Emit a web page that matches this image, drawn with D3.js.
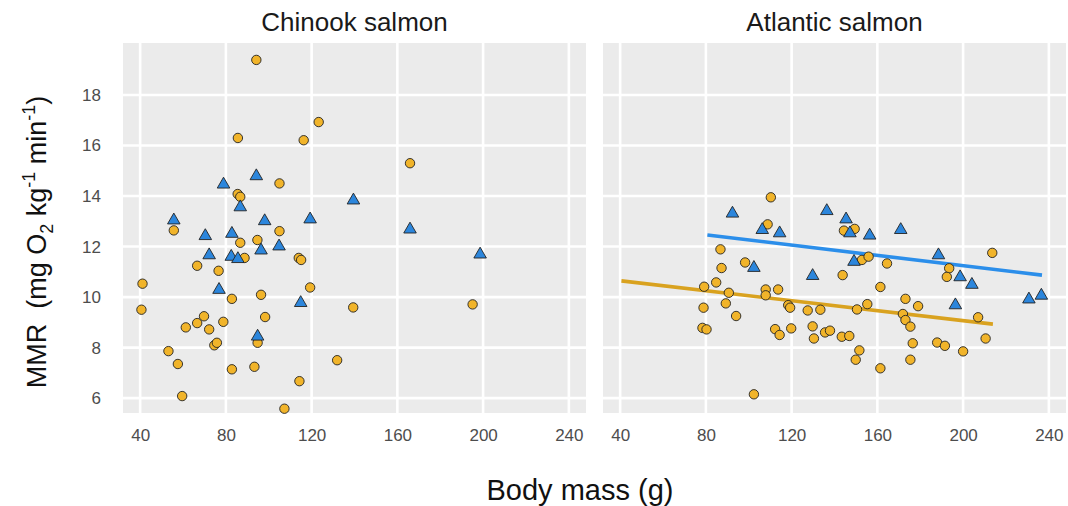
<!DOCTYPE html>
<html>
<head>
<meta charset="utf-8">
<script src="https://cdn.jsdelivr.net/npm/d3@7"></script>
<style>
  body { margin: 0; background: #fff; }
  text { font-family: "Liberation Sans", Arial, sans-serif; }
</style>
</head>
<body>
<div id="canvas"></div>
<script>
const W = 1068, H = 506;

// panels
const species = ["Chinook salmon", "Atlantic salmon"];
const xTicks = [40, 80, 120, 160, 200, 240];
const yTicks = [6, 8, 10, 12, 14, 16, 18];

// Chinook salmon: [body mass (g), MMR]
const chinookCircles = [
  [94.2,19.39],[123.3,16.93],[85.6,16.30],[116.3,16.21],[105,14.5],[85.5,14.08],[86.7,13.97],
  [55.7,12.64],[105,12.61],[165.9,15.3],[86.7,12.15],[94.7,12.26],[88.7,11.55],[114,11.55],
  [115.1,11.47],[66.6,11.24],[76.6,11.04],[41.1,10.53],[119.3,10.38],[82.8,9.93],[96.4,10.09],
  [139.4,9.59],[40.6,9.5],[69.8,9.24],[98.3,9.21],[61.3,8.80],[66.6,8.97],[72.2,8.72],
  [78.8,9.02],[94.8,8.19],[74.6,8.09],[75.8,8.19],[53.2,7.86],[57.6,7.35],[82.8,7.14],
  [93.3,7.24],[131.9,7.5],[114.3,6.67],[59.6,6.08],[107.3,5.58],[195.1,9.71]
];
const chinookTriangles = [
  [78.9,14.46],[94.2,14.79],[139.5,13.83],[86.7,13.56],[55.7,13.04],[98.1,13.01],[119.3,13.08],
  [70.4,12.42],[82.8,12.51],[165.9,12.68],[96.4,11.85],[104.8,12.01],[72.2,11.66],[82.5,11.60],
  [85.6,11.51],[76.8,10.29],[114.9,9.77],[94.8,8.44],[198.6,11.69]
];

// Atlantic salmon
const atlanticCircles = [
  [110.3,13.95],[108.8,12.88],[86.8,11.89],[87.3,11.15],[98.3,11.37],[84.8,10.58],[79.2,10.41],
  [90.7,10.17],[107.9,10.30],[113.7,10.30],[107.9,10.07],[144.4,12.63],[149.4,12.7],[152.8,11.47],
  [155.9,11.6],[143.8,10.87],[164.5,11.33],[161.4,10.4],[213.6,11.75],[193.5,11.14],[192.4,10.8],
  [173.1,9.93],[78.9,9.58],[89.3,9.75],[94.1,9.25],[78.4,8.78],[80.3,8.72],[118.4,9.68],
  [119.3,9.58],[127.5,9.47],[133.4,9.5],[112.3,8.73],[114.4,8.5],[119.8,8.76],[129.8,8.84],
  [130.4,8.36],[135.6,8.60],[137.9,8.67],[102.4,6.15],[155.3,9.72],[150.5,9.51],[179,9.64],
  [171.9,9.33],[173.1,9.09],[175.4,8.83],[207,9.2],[210.5,8.36],[143.4,8.43],[146.9,8.46],
  [151.6,7.89],[149.9,7.52],[161.4,7.18],[176.5,8.17],[175.4,7.52],[187.9,8.2],[191.5,8.07],
  [200,7.85]
];
const atlanticTriangles = [
  [92.4,13.31],[106.3,12.66],[114.4,12.53],[136.4,13.41],[102.4,11.16],[129.8,10.84],[145.4,13.08],
  [147.2,12.53],[156.4,12.44],[170.9,12.66],[149.1,11.40],[188.5,11.66],[198.6,10.79],[204.1,10.49],
  [230.7,9.91],[236.5,10.06],[196.4,9.68]
];

// fitted lines (Atlantic only): slope, intercept, x range
const triFit = { slope: -0.0102, intercept: 13.283, range: [80.7, 236.8] };
const circFit = { slope: -0.00987, intercept: 11.041, range: [40.6, 213.9] };

const panels = [
  { title: species[0], left: 123, circles: chinookCircles, triangles: chinookTriangles, fits: [] },
  { title: species[1], left: 603, circles: atlanticCircles, triangles: atlanticTriangles,
    fits: [{ f: circFit, color: "#D9A21F" }, { f: triFit, color: "#2B8EEA" }] }
];

const panelTop = 43, panelBottom = 413, pw = 463;
const circleFill = "#F1B42A", triFill = "#2C86DC";

const svg = d3.select("#canvas").append("svg")
    .attr("width", W).attr("height", H);

const yScale = d3.scaleLinear().domain([5.41, 20.06]).range([panelBottom, panelTop]);

panels.forEach(p => {
  const xScale = d3.scaleLinear().domain([32, 248]).range([p.left, p.left + pw]);
  const g = svg.append("g");

  g.append("rect")
    .attr("x", p.left).attr("y", panelTop)
    .attr("width", pw).attr("height", panelBottom - panelTop)
    .style("fill", "#EBEBEB");

  // grid
  g.selectAll(".hgrid").data(yTicks).enter().append("line")
    .attr("x1", p.left).attr("x2", p.left + pw)
    .attr("y1", d => yScale(d)).attr("y2", d => yScale(d))
    .style("stroke", "#fff").style("stroke-width", 2.6);
  g.selectAll(".vgrid").data(xTicks).enter().append("line")
    .attr("x1", d => xScale(d)).attr("x2", d => xScale(d))
    .attr("y1", panelTop).attr("y2", panelBottom)
    .style("stroke", "#fff").style("stroke-width", 2.6);

  // x axis labels
  const xAxis = d3.axisBottom(xScale).tickValues(xTicks).tickSize(0).tickPadding(16);
  const xa = svg.append("g").attr("transform", `translate(0,${panelBottom})`).call(xAxis);
  xa.select(".domain").remove();
  xa.selectAll("text").style("font-size", "17px").style("fill", "#4D4D4D")
    .style("font-family", "Liberation Sans, Arial, sans-serif");

  // strip title
  svg.append("text")
    .attr("x", p.left + pw / 2).attr("y", 31)
    .attr("text-anchor", "middle")
    .style("font-size", "26px").style("fill", "#1a1a1a")
    .text(p.title);

  // regression lines
  p.fits.forEach(fl => {
    g.append("line")
      .attr("x1", xScale(fl.f.range[0]))
      .attr("y1", yScale(fl.f.intercept + fl.f.slope * fl.f.range[0]))
      .attr("x2", xScale(fl.f.range[1]))
      .attr("y2", yScale(fl.f.intercept + fl.f.slope * fl.f.range[1]))
      .style("stroke", fl.color).style("stroke-width", 3.6);
  });

  g.selectAll(".pt").data(p.circles).enter().append("circle")
    .attr("cx", d => xScale(d[0])).attr("cy", d => yScale(d[1]))
    .attr("r", 4.7)
    .style("fill", circleFill).style("stroke", "#222").style("stroke-width", 0.9);

  g.selectAll(".tri").data(p.triangles).enter().append("path")
    .attr("d", d3.symbol().type(d3.symbolTriangle).size(68))
    .attr("transform", d => `translate(${xScale(d[0])},${yScale(d[1])})`)
    .style("fill", triFill).style("stroke", "#222").style("stroke-width", 0.9);
});

// y axis labels
const yAxis = d3.axisLeft(yScale).tickValues(yTicks).tickSize(0).tickPadding(22);
const ya = svg.append("g").attr("transform", "translate(123,0)").call(yAxis);
ya.select(".domain").remove();
ya.selectAll("text").style("font-size", "17px").style("fill", "#4D4D4D")
  .style("font-family", "Liberation Sans, Arial, sans-serif");

// axis titles
svg.append("text")
  .attr("x", 580).attr("y", 500)
  .attr("text-anchor", "middle")
  .style("font-size", "29px").style("fill", "#111")
  .text("Body mass (g)");

const yt = svg.append("text")
  .attr("transform", "translate(46,242) rotate(-90)")
  .attr("text-anchor", "middle")
  .style("white-space", "pre")
  .style("font-size", "27px").style("fill", "#111");
yt.append("tspan").text("MMR  (mg O");
yt.append("tspan").attr("dy", 7).style("font-size", "18px").text("2");
yt.append("tspan").attr("dy", -7).text(" kg");
yt.append("tspan").attr("dy", -11).style("font-size", "18px").text("-1");
yt.append("tspan").attr("dy", 11).text(" min");
yt.append("tspan").attr("dy", -11).style("font-size", "18px").text("-1");
yt.append("tspan").attr("dy", 11).text(")");
</script>
</body>
</html>
